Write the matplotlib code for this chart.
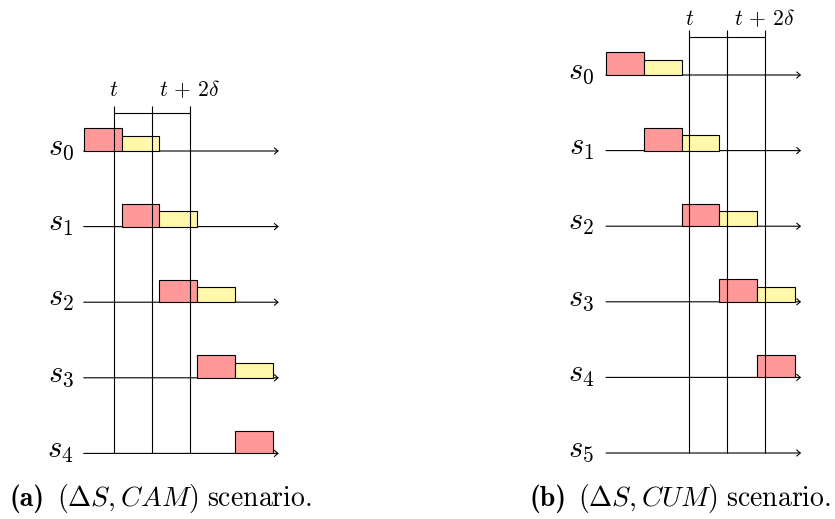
import matplotlib
matplotlib.use("Agg")
import matplotlib.pyplot as plt
from matplotlib.patches import Rectangle

plt.rcParams['mathtext.fontset'] = 'cm'
plt.rcParams['font.family'] = ['DejaVu Serif']

# ---------------- data ----------------
rows_a = ['s_0', 's_1', 's_2', 's_3', 's_4']
red_start_a = [0, 1, 2, 3, 4]
yellow_start_a = [1, 2, 3, 4, None]
t_a = 0.8

rows_b = ['s_0', 's_1', 's_2', 's_3', 's_4', 's_5']
red_start_b = [0, 1, 2, 3, 4, None]
yellow_start_b = [1, 2, 3, 4, None, None]
t_b = 2.2

delta = 1.0
block_len = 1.0
time_marks = ['t', None, r't\,+\,2\delta']
caption_tags = ['(a)', '(b)']
captions = [r'$(\Delta S, CAM)\ \mathrm{scenario.}$',
            r'$(\Delta S, CUM)\ \mathrm{scenario.}$']

# ---------------- layout ----------------
W, H, DPI = 835, 519, 100
U = 37.8          # pixels per unit
ROW = 2.0         # row spacing in units
RED_H, YEL_H = 0.6, 0.4
AXIS_END = 5.16
RED = '#FF9999'
YEL = '#FFF7AA'
LW = 0.8

fig = plt.figure(figsize=(W / DPI, H / DPI), dpi=DPI)


def panel(left_px, right_px, x0_px, y0_px, rows, red_start, yellow_start, t,
          label_base_px, label_gap_px):
    ax = fig.add_axes([left_px / W, 0, (right_px - left_px) / W, 1])
    ax.set_xlim((left_px - x0_px) / U, (right_px - x0_px) / U)
    ax.set_ylim((y0_px - H) / U, y0_px / U)
    ax.axis('off')
    n = len(rows)
    for i, name in enumerate(rows):
        y = -ROW * i
        ax.annotate('', xy=(AXIS_END, y), xytext=(0, y),
                    arrowprops=dict(arrowstyle='->,head_length=0.25,head_width=0.22',
                                    lw=LW, color='black', shrinkA=0, shrinkB=0),
                    zorder=2)
        ax.text(-label_gap_px / U, y - 4 / U, '$' + name + '$', ha='right',
                va='baseline', fontsize=22)
        if red_start[i] is not None:
            ax.add_patch(Rectangle((red_start[i], y), block_len, RED_H,
                                   facecolor=RED, edgecolor='black', lw=LW, zorder=3))
        if yellow_start[i] is not None:
            ax.add_patch(Rectangle((yellow_start[i], y), block_len, YEL_H,
                                   facecolor=YEL, edgecolor='black', lw=LW, zorder=3))
    marks = [t, t + delta, t + 2 * delta]
    bottom = -ROW * (n - 1)
    for m, lab in zip(marks, time_marks):
        ax.plot([m, m], [1.18, bottom], color='black', lw=LW, zorder=4,
                solid_capstyle='butt')
        if lab is not None:
            ax.text(m, (y0_px - label_base_px) / U, '$' + lab + '$', ha='center',
                    va='baseline', fontsize=15.5)
    ax.plot([marks[0], marks[-1]], [1, 1], color='black', lw=LW, zorder=4)
    return ax


panel(0, 417, 83.7, 151, rows_a, red_start_a, yellow_start_a, t_a, 95.7, 10)
panel(417, 835, 606, 75, rows_b, red_start_b, yellow_start_b, t_b, 25, 12)

for cx, tag, cap in zip([9, 530], caption_tags, captions):
    fig.text(cx / W, 1 - 506 / H, tag, ha='left', va='baseline',
             fontsize=20, family='cmb10')
    fig.text((cx + 48) / W, 1 - 506 / H, cap, ha='left', va='baseline',
             fontsize=20)

fig.savefig('out.png', dpi=DPI)
